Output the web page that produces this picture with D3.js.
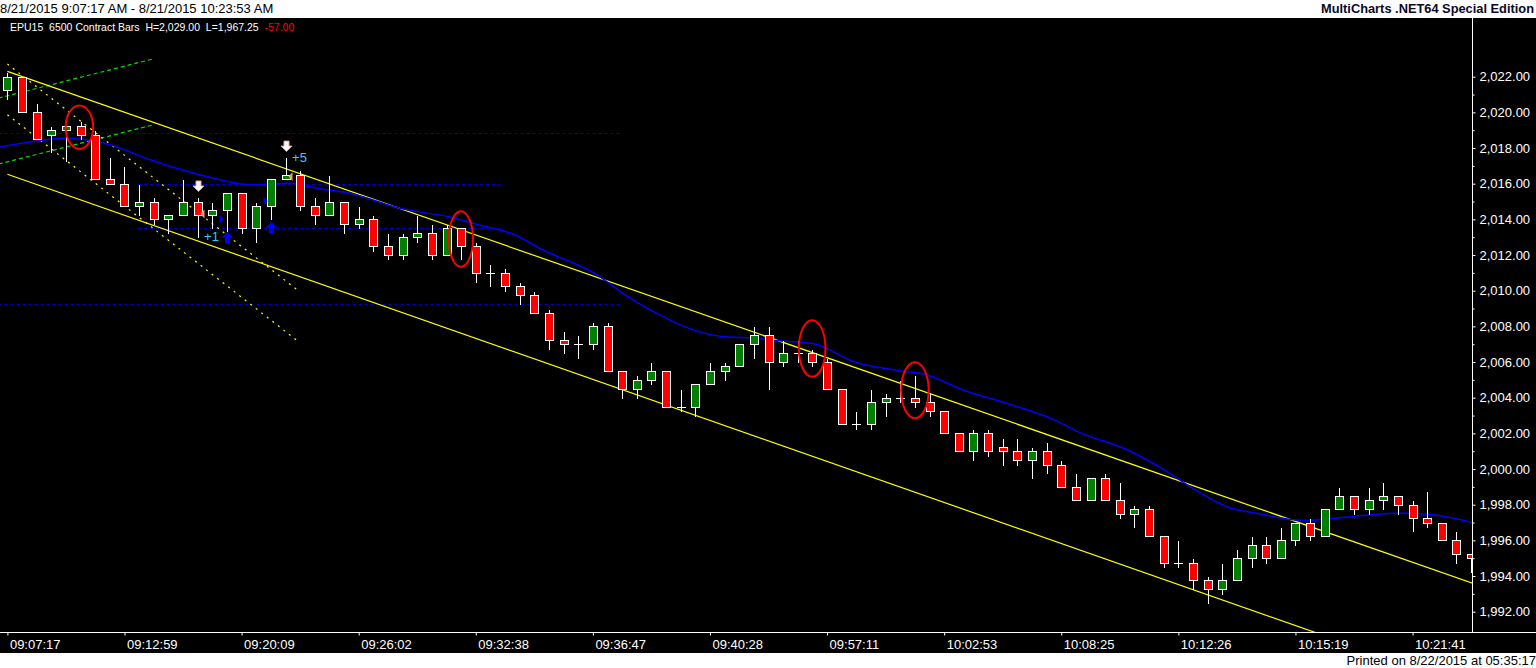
<!DOCTYPE html>
<html>
<head>
<meta charset="utf-8">
<script src="https://cdn.jsdelivr.net/npm/d3@7/dist/d3.min.js"></script>
<style>
html, body { margin: 0; padding: 0; background: #fff; overflow: hidden; }
svg { display: block; font-family: "Liberation Sans", Arial, sans-serif; }
</style>
</head>
<body>
<svg width="1536" height="668"></svg>
<script>
// 6500 contract bars, EPU15, 8/21/2015
const barOpen = [
  2021.25, 2022.0, 2020.0, 2018.75, 2019.0, 2019.25, 2018.75, 2016.25, 2016.0, 2014.75,
  2015.0, 2014.0, 2014.25, 2015.0, 2014.25, 2014.5, 2015.5, 2013.5, 2014.75, 2016.25,
  2016.5, 2014.75, 2014.25, 2015.0, 2013.75, 2014.0, 2012.5, 2012.0, 2013.0, 2013.25,
  2012.0, 2013.5, 2012.5, 2011.0, 2011.0, 2010.25, 2009.75, 2008.75, 2007.25, 2007.0,
  2007.0, 2008.0, 2005.5, 2004.5, 2005.0, 2005.5, 2003.5, 2003.5, 2004.75, 2005.5,
  2005.75, 2007.0, 2007.5, 2006.0, 2006.5, 2006.5, 2006.0, 2004.5, 2002.5, 2002.5,
  2003.75, 2004.0, 2004.0, 2003.75, 2003.25, 2002.0, 2001.0, 2002.0, 2001.25, 2001.0,
  2000.5, 2001.0, 2000.25, 1999.0, 1998.25, 1999.5, 1998.25, 1997.5, 1997.75, 1996.25,
  1994.75, 1994.75, 1993.75, 1993.25, 1993.75, 1995.0, 1995.75, 1995.0, 1996.0, 1997.0,
  1996.25, 1997.75, 1998.5, 1997.75, 1998.25, 1998.5, 1998.0, 1997.25, 1997.0, 1996.0,
  1995.25
];
const barHigh = [
  2022.25, 2022.0, 2020.5, 2019.25, 2019.25, 2019.5, 2019.0, 2017.5, 2017.0, 2016.0,
  2015.25, 2014.25, 2016.25, 2015.25, 2015.0, 2015.5, 2015.5, 2015.0, 2016.25, 2017.5,
  2016.75, 2015.25, 2016.5, 2015.0, 2014.75, 2014.25, 2013.25, 2013.25, 2014.25, 2013.75,
  2013.75, 2013.5, 2012.75, 2011.5, 2011.25, 2010.5, 2010.0, 2009.0, 2007.75, 2007.5,
  2008.25, 2008.25, 2005.5, 2005.25, 2006.0, 2005.5, 2004.5, 2004.75, 2006.0, 2006.0,
  2007.0, 2008.0, 2008.0, 2007.25, 2007.25, 2006.75, 2006.25, 2004.5, 2003.25, 2004.5,
  2004.25, 2005.0, 2005.25, 2004.25, 2003.25, 2002.0, 2002.25, 2002.25, 2001.75, 2001.75,
  2001.25, 2001.5, 2000.5, 1999.75, 1999.5, 1999.75, 1999.25, 1998.0, 1998.0, 1996.25,
  1996.0, 1995.0, 1994.0, 1994.75, 1995.5, 1996.25, 1996.25, 1996.75, 1997.0, 1997.25,
  1997.75, 1999.0, 1998.5, 1999.0, 1999.25, 1998.5, 1998.25, 1998.75, 1997.0, 1996.5,
  1995.25
];
const barLow = [
  2020.75, 2020.0, 2018.5, 2017.75, 2017.25, 2018.5, 2016.25, 2016.0, 2014.75, 2014.25,
  2013.75, 2013.25, 2014.25, 2013.0, 2013.5, 2013.25, 2013.25, 2012.75, 2014.0, 2016.25,
  2014.5, 2013.75, 2014.25, 2013.25, 2013.5, 2012.25, 2011.75, 2011.75, 2012.75, 2011.75,
  2012.0, 2011.75, 2010.5, 2010.25, 2010.0, 2009.25, 2008.75, 2006.75, 2006.5, 2006.25,
  2006.75, 2005.5, 2004.0, 2004.0, 2004.75, 2003.5, 2003.25, 2003.0, 2004.75, 2005.0,
  2005.75, 2006.25, 2004.5, 2005.75, 2006.0, 2005.75, 2004.5, 2002.5, 2002.25, 2002.25,
  2003.0, 2003.75, 2003.5, 2003.0, 2002.0, 2001.0, 2000.5, 2000.75, 2000.25, 2000.25,
  1999.5, 1999.75, 1999.0, 1998.25, 1998.25, 1998.25, 1997.25, 1996.75, 1996.25, 1994.5,
  1994.5, 1993.25, 1992.5, 1993.0, 1993.75, 1994.5, 1994.75, 1995.0, 1995.75, 1996.0,
  1996.25, 1997.75, 1997.5, 1997.5, 1997.75, 1997.5, 1996.5, 1996.75, 1996.0, 1994.75,
  1994.25
];
const barClose = [
  2022.0, 2020.0, 2018.5, 2019.0, 2019.25, 2018.75, 2016.25, 2016.0, 2014.75, 2015.0,
  2014.0, 2014.25, 2015.0, 2014.25, 2014.5, 2015.5, 2013.5, 2014.75, 2016.25, 2016.5,
  2014.75, 2014.25, 2015.0, 2013.75, 2014.0, 2012.5, 2012.0, 2013.0, 2013.25, 2012.0,
  2013.5, 2012.5, 2011.0, 2011.0, 2010.25, 2009.75, 2008.75, 2007.25, 2007.0, 2007.0,
  2008.0, 2005.5, 2004.5, 2005.0, 2005.5, 2003.5, 2003.5, 2004.75, 2005.5, 2005.75,
  2007.0, 2007.5, 2006.0, 2006.5, 2006.5, 2006.0, 2004.5, 2002.5, 2002.5, 2003.75,
  2004.0, 2004.0, 2003.75, 2003.25, 2002.0, 2001.0, 2002.0, 2001.0, 2001.0, 2000.5,
  2001.0, 2000.25, 1999.0, 1998.25, 1999.5, 1998.25, 1997.5, 1997.75, 1996.25, 1994.75,
  1994.75, 1993.75, 1993.25, 1993.75, 1995.0, 1995.75, 1995.0, 1996.0, 1997.0, 1996.25,
  1997.75, 1998.5, 1997.75, 1998.25, 1998.5, 1998.0, 1997.25, 1997.0, 1996.0, 1995.25,
  1995.0
];

// time axis labels, one every 8 bars
const tickBars = [0, 8, 16, 24, 32, 40, 48, 56, 64, 72, 80, 88, 96];
const tickTimes = ['09:07:17', '09:12:59', '09:20:09', '09:26:02', '09:32:38', '09:36:47', '09:40:28',
  '09:57:11', '10:02:53', '10:08:25', '10:12:26', '10:15:19', '10:21:41'];

const priceTicks = d3.range(1992, 2023, 2);
const priceMinor = d3.range(1993, 2023, 2);

// moving average (blue), read at bar positions
const maBar = [-0.6, 2, 4, 7, 9.75, 13.2, 16.8, 19.3, 21.1, 23.4, 26.8, 30.3, 32.5, 34.4, 36.6, 40.5,
  41.9, 44.6, 46, 48.7, 51.4, 52.7, 55, 57.9, 60.7, 62.9, 65.2, 68.2, 71.6, 73.2, 76.6, 78.9,
  81.2, 83.4, 85.3, 88.7, 91.4, 95.1, 97.4, 100.6];
const maValue = [2018.05, 2018.4, 2018.56, 2018.18, 2017.34, 2016.49, 2015.93, 2016.03, 2015.75, 2015.47,
  2014.62, 2014.12, 2013.63, 2013.22, 2012.28, 2010.78, 2009.94, 2008.63, 2008.07, 2007.45,
  2007.32, 2007.19, 2007.04, 2006.0, 2005.54, 2005.26, 2004.46, 2003.7, 2002.73, 2002.07,
  2001.04, 2000.02, 1998.8, 1997.86, 1997.52, 1997.11, 1997.3, 1997.54, 1997.43, 1996.9];

// drawings: [bar0, price0, bar1, price1]
const channelLines = [[0, 2022.3, 100.6, 1993.45], [0, 2016.53, 100.6, 1987.6]];
const fanLines = [[0, 2022.71, 19.77, 2010.07], [0, 2019.87, 19.77, 2007.22]];
const greenLines = [[-0.6, 2020.8, 9.97, 2023.0], [-0.6, 2017.1, 9.97, 2019.3]];
// horizontal levels: [price, bar0, bar1]
const levelLines = [[2018.85, -0.6, 41.9], [2016.0, 8.93, 33.7], [2013.5, 8.93, 33.7], [2009.25, -0.6, 41.9]];
// red ellipses: [bar, price, half width in bars, half height in points]
const ellipses = [[4.92, 2019.17, 0.94, 1.22], [30.98, 2012.9, 0.83, 1.56], [54.98, 2006.76, 0.91, 1.59], [62.0, 2004.42, 0.94, 1.57]];

// trades
const sellArrows = [[13, 2015.56], [19, 2017.8]];
const coverArrows = [[15, 2013.31], [18, 2013.87]];
const entryMarks = [[13, 2014.3], [19, 2016.4]];
const exitMarks = [[15, 2014.0], [18, 2015.03]];
const profitText = [[13.44, 2013.03, '+1'], [19.45, 2017.49, '+5']];

const svg = d3.select('svg');
const width = +svg.attr('width');
const height = +svg.attr('height');

const plotTop = 18, plotBottom = 632, plotRight = 1472.5, chartBottom = 653;

const xScale = d3.scaleLinear().domain([0, 100]).range([7.4, 1471.1]);
const yScale = d3.scaleLinear().domain([1992, 2022]).range([611.7, 76.7]);
const px = (i) => Math.round(xScale(i)) + 0.5;
const py = (p) => Math.round(yScale(p)) + 0.5;

svg.append('rect').attr('width', width).attr('height', height).attr('fill', '#fff');
svg.append('rect')
  .attr('x', 0).attr('y', plotTop)
  .attr('width', width).attr('height', chartBottom - plotTop)
  .attr('fill', '#000');

svg.append('defs').append('clipPath').attr('id', 'plot')
  .append('rect').attr('x', 0).attr('y', plotTop).attr('width', plotRight).attr('height', plotBottom - plotTop);

const g = svg.append('g').attr('clip-path', 'url(#plot)');

// horizontal dashed levels
g.selectAll('.level').data(levelLines).enter().append('line')
  .attr('x1', (d) => xScale(d[1])).attr('x2', (d) => xScale(d[2]))
  .attr('y1', (d) => py(d[0])).attr('y2', (d) => py(d[0]))
  .attr('stroke', '#0000c8').attr('stroke-width', 1).attr('stroke-dasharray', '3,3');

// green dashed lines
g.selectAll('.green').data(greenLines).enter().append('line')
  .attr('x1', (d) => xScale(d[0])).attr('y1', (d) => yScale(d[1]))
  .attr('x2', (d) => xScale(d[2])).attr('y2', (d) => yScale(d[3]))
  .attr('stroke', '#00e000').attr('stroke-width', 1.2).attr('stroke-dasharray', '4,3');

// yellow dashed fan
g.selectAll('.fan').data(fanLines).enter().append('line')
  .attr('x1', (d) => xScale(d[0])).attr('y1', (d) => yScale(d[1]))
  .attr('x2', (d) => xScale(d[2])).attr('y2', (d) => yScale(d[3]))
  .attr('stroke', '#ffff00').attr('stroke-width', 1.2).attr('stroke-dasharray', '2,5');

// yellow channel
g.selectAll('.channel').data(channelLines).enter().append('line')
  .attr('x1', (d) => xScale(d[0])).attr('y1', (d) => yScale(d[1]))
  .attr('x2', (d) => xScale(d[2])).attr('y2', (d) => yScale(d[3]))
  .attr('stroke', '#ffff00').attr('stroke-width', 1.2);

// moving average
const maLine = d3.line()
  .x((d, i) => xScale(maBar[i]))
  .y((d) => yScale(d))
  .curve(d3.curveMonotoneX);
g.append('path')
  .attr('d', maLine(maValue))
  .attr('fill', 'none').attr('stroke', '#0000ff').attr('stroke-width', 1.5);

// candles
const bars = d3.range(barOpen.length);
const candle = g.selectAll('.bar').data(bars).enter().append('g')
  .attr('shape-rendering', 'crispEdges');

candle.append('line')
  .attr('x1', (i) => px(i)).attr('x2', (i) => px(i))
  .attr('y1', (i) => py(barHigh[i])).attr('y2', (i) => py(barLow[i]))
  .attr('stroke', '#fff');

candle.filter((i) => barOpen[i] !== barClose[i]).append('rect')
  .attr('x', (i) => px(i) - 4)
  .attr('y', (i) => py(Math.max(barOpen[i], barClose[i])))
  .attr('width', 8)
  .attr('height', (i) => py(Math.min(barOpen[i], barClose[i])) - py(Math.max(barOpen[i], barClose[i])))
  .attr('fill', (i) => (barClose[i] > barOpen[i] ? '#008000' : '#ff0000'))
  .attr('stroke', '#fff');

candle.filter((i) => barOpen[i] === barClose[i]).append('line')
  .attr('x1', (i) => px(i) - 4.5).attr('x2', (i) => px(i) + 4.5)
  .attr('y1', (i) => py(barClose[i])).attr('y2', (i) => py(barClose[i]))
  .attr('stroke', '#fff');

// red ellipses
g.selectAll('.ell').data(ellipses).enter().append('ellipse')
  .attr('cx', (d) => xScale(d[0])).attr('cy', (d) => yScale(d[1]))
  .attr('rx', (d) => xScale(d[2]) - xScale(0))
  .attr('ry', (d) => yScale(0) - yScale(d[3]))
  .attr('fill', 'none').attr('stroke', '#ff0000').attr('stroke-width', 2);

// trade markers
g.selectAll('.sell').data(sellArrows).enter().append('path')
  .attr('transform', (d) => `translate(${px(d[0])},${yScale(d[1])})`)
  .attr('d', 'M0,0 L-5.5,-5.5 L-2.5,-5.5 L-2.5,-10.5 L2.5,-10.5 L2.5,-5.5 L5.5,-5.5 Z')
  .attr('fill', '#fff').attr('stroke', '#e8a898').attr('stroke-width', 1);

g.selectAll('.cover').data(coverArrows).enter().append('path')
  .attr('transform', (d) => `translate(${px(d[0])},${yScale(d[1])})`)
  .attr('d', 'M0,0 L6,6 L2.5,6 L2.5,11.5 L-2.5,11.5 L-2.5,6 L-6,6 Z')
  .attr('fill', '#0000ff');

g.selectAll('.entry').data(entryMarks).enter().append('path')
  .attr('transform', (d) => `translate(${px(d[0]) + 2},${yScale(d[1])})`)
  .attr('d', 'M0,0 L4,-4.5 L4,4.5 Z')
  .attr('fill', '#f0a070');

g.selectAll('.exit').data(exitMarks).enter().append('path')
  .attr('transform', (d) => `translate(${px(d[0]) - 4},${yScale(d[1])})`)
  .attr('d', 'M0,0 L-4,-4.5 L-4,4.5 Z')
  .attr('fill', '#0000ff');

g.selectAll('.profit').data(profitText).enter().append('text')
  .attr('x', (d) => xScale(d[0])).attr('y', (d) => yScale(d[1]))
  .attr('dy', '0.35em')
  .attr('fill', '#33ccff').attr('font-size', 13)
  .text((d) => d[2]);

// price axis (right)
const yAxisG = svg.append('g')
  .attr('transform', `translate(${plotRight},0)`)
  .call(d3.axisRight(yScale).tickValues(priceTicks).tickSize(3).tickPadding(4).tickFormat(d3.format(',.2f')));
yAxisG.select('.domain').remove();
yAxisG.selectAll('line').attr('stroke', '#fff');
yAxisG.selectAll('text').attr('fill', '#fff').attr('font-size', 13)
  .attr('font-family', '"Liberation Sans", Arial, sans-serif');

const yMinorG = svg.append('g')
  .attr('transform', `translate(${plotRight},0)`)
  .call(d3.axisRight(yScale).tickValues(priceMinor).tickSize(2).tickFormat(''));
yMinorG.select('.domain').remove();
yMinorG.selectAll('line').attr('stroke', '#fff');

svg.append('line')
  .attr('x1', plotRight).attr('x2', plotRight).attr('y1', plotTop).attr('y2', plotBottom)
  .attr('stroke', '#fff');

// time axis (bottom)
const xAxisG = svg.append('g')
  .attr('transform', `translate(0,${plotBottom + 0.5})`)
  .call(d3.axisBottom(xScale).tickValues(tickBars).tickSize(3).tickPadding(4)
    .tickFormat((d, i) => tickTimes[i]));
xAxisG.select('.domain').remove();
xAxisG.selectAll('line').attr('stroke', '#fff');
xAxisG.selectAll('text')
  .attr('fill', '#fff').attr('font-size', 13)
  .attr('font-family', '"Liberation Sans", Arial, sans-serif')
  .attr('text-anchor', 'start').attr('x', 2);

svg.append('line')
  .attr('x1', 0).attr('x2', width).attr('y1', plotBottom + 0.5).attr('y2', plotBottom + 0.5)
  .attr('stroke', '#fff');

// header and footer
svg.append('text')
  .attr('x', 0).attr('y', 13)
  .attr('font-size', 13).attr('fill', '#000')
  .text('8/21/2015 9:07:17 AM - 8/21/2015 10:23:53 AM');

svg.append('text')
  .attr('x', 1534).attr('y', 13)
  .attr('text-anchor', 'end')
  .attr('font-size', 13).attr('font-weight', 'bold').attr('fill', '#0a0a28')
  .attr('textLength', 213).attr('lengthAdjust', 'spacingAndGlyphs')
  .text('MultiCharts .NET64 Special Edition');

const info = svg.append('text')
  .attr('x', 10).attr('y', 31)
  .attr('font-size', 10.5).attr('fill', '#fff')
  .style('white-space', 'pre');
info.append('tspan').text('EPU15  6500 Contract Bars  H=2,029.00  L=1,967.25  ');
info.append('tspan').attr('fill', '#ff0000').text('-57.00');

svg.append('text')
  .attr('x', 1536).attr('y', 665)
  .attr('text-anchor', 'end')
  .attr('font-size', 13).attr('fill', '#000')
  .text('Printed on 8/22/2015 at 05:35:17');
</script>
</body>
</html>
